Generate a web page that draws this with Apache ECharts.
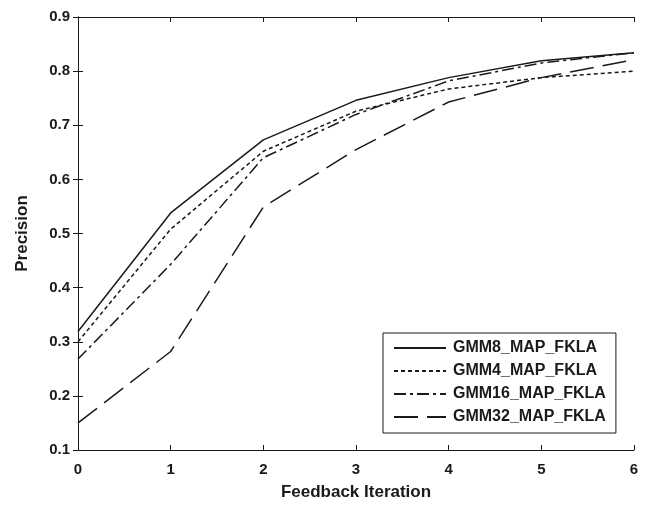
<!DOCTYPE html>
<html>
<head>
<meta charset="utf-8">
<style>
  html, body { margin: 0; padding: 0; background: #fff; }
  #main { width: 653px; height: 506px; }
</style>
</head>
<body>
<div id="main"></div>
<script src="https://cdn.jsdelivr.net/npm/echarts@6/dist/echarts.min.js"></script>
<script>
// data
var iterations = [0, 1, 2, 3, 4, 5, 6];
var gmm8  = [0.319, 0.538, 0.673, 0.746, 0.788, 0.819, 0.834];
var gmm4  = [0.300, 0.508, 0.652, 0.726, 0.767, 0.788, 0.800];
var gmm16 = [0.268, 0.443, 0.640, 0.720, 0.782, 0.815, 0.834];
var gmm32 = [0.150, 0.282, 0.549, 0.655, 0.743, 0.788, 0.821];
var names = ['GMM8_MAP_FKLA', 'GMM4_MAP_FKLA', 'GMM16_MAP_FKLA', 'GMM32_MAP_FKLA'];

function pairs(ys) {
    return iterations.map(function (x, i) { return [x, ys[i]]; });
}

var font = 'Liberation Sans, Arial, sans-serif';
var ink = '#1a1a1a';

var myChart = echarts.init(document.getElementById('main'));
var option = {
    animation: false,
    backgroundColor: '#fff',
    grid: { left: 78, right: 19, top: 17, bottom: 49 },
    legend: {
        orient: 'vertical',
        left: 383,
        top: 333,
        itemWidth: 52,
        itemHeight: 12,
        itemGap: 7,
        padding: [7, 10, 8, 10],
        backgroundColor: '#fff',
        borderColor: ink,
        borderWidth: 1,
        borderRadius: 0,
        itemStyle: { opacity: 0 },
        textStyle: { fontFamily: font, fontWeight: 'bold', fontSize: 16, color: ink, padding: [0, 0, 0, 2] },
        data: names
    },
    xAxis: [
        {
            type: 'value', min: 0, max: 6, interval: 1,
            name: 'Feedback Iteration', nameLocation: 'middle', nameGap: 34,
            nameTextStyle: { fontFamily: font, fontWeight: 'bold', fontSize: 17, color: ink },
            axisLine: { show: true, lineStyle: { color: ink, width: 1 } },
            axisTick: { inside: true, length: 5, lineStyle: { color: ink } },
            axisLabel: { fontFamily: font, fontWeight: 'bold', fontSize: 15, color: ink, margin: 12 },
            splitLine: { show: false }
        },
        {
            type: 'value', min: 0, max: 6, interval: 1, position: 'top',
            axisLine: { show: true, lineStyle: { color: ink, width: 1 } },
            axisTick: { inside: true, length: 5, lineStyle: { color: ink } },
            axisLabel: { show: false },
            splitLine: { show: false }
        }
    ],
    yAxis: [
        {
            type: 'value', min: 0.1, max: 0.9, interval: 0.1,
            name: 'Precision', nameLocation: 'middle', nameGap: 47,
            nameTextStyle: { fontFamily: font, fontWeight: 'bold', fontSize: 17, color: ink },
            axisLine: { show: true, lineStyle: { color: ink, width: 1 } },
            axisTick: { inside: true, length: 5, lineStyle: { color: ink } },
            axisLabel: {
                fontFamily: font, fontWeight: 'bold', fontSize: 15, color: ink, margin: 8,
                formatter: function (v) { return v.toFixed(1); }
            },
            splitLine: { show: false }
        },
        {
            type: 'value', min: 0.1, max: 0.9, interval: 0.1, position: 'right',
            axisLine: { show: true, lineStyle: { color: ink, width: 1 } },
            axisTick: { inside: true, length: 5, lineStyle: { color: ink } },
            axisLabel: { show: false },
            splitLine: { show: false }
        }
    ],
    series: [
        {
            name: names[0], type: 'line', symbol: 'none', data: pairs(gmm8),
            lineStyle: { color: ink, width: 1.5, type: 'solid' },
            itemStyle: { color: ink }
        },
        {
            name: names[1], type: 'line', symbol: 'none', data: pairs(gmm4),
            lineStyle: { color: ink, width: 1.5, type: [4, 3] },
            itemStyle: { color: ink }
        },
        {
            name: names[2], type: 'line', symbol: 'none', data: pairs(gmm16),
            lineStyle: { color: ink, width: 1.5, type: [12, 4, 3, 4] },
            itemStyle: { color: ink }
        },
        {
            name: names[3], type: 'line', symbol: 'none', data: pairs(gmm32),
            lineStyle: { color: ink, width: 1.5, type: [24, 9] },
            itemStyle: { color: ink }
        }
    ]
};
myChart.setOption(option);
</script>
</body>
</html>
